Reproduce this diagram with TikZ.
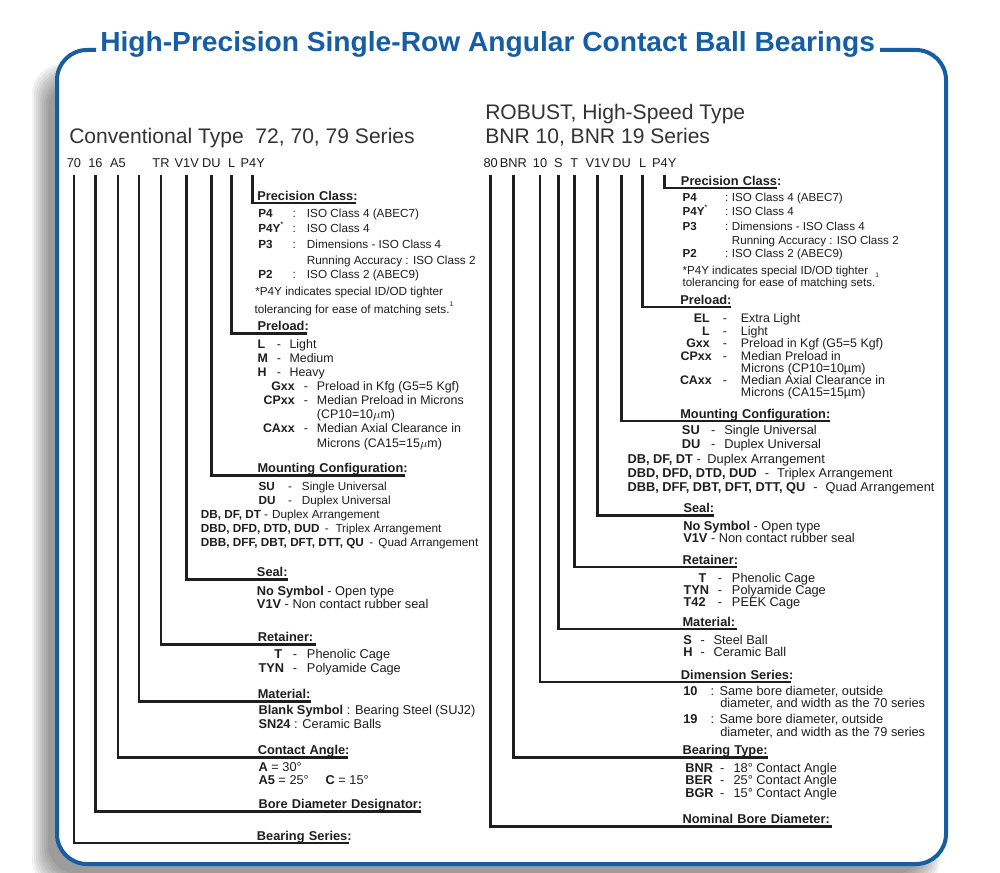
\documentclass[tikz,border=0pt]{standalone}
\usepackage{fontspec}
\setmainfont{Liberation Sans}
\usepackage{graphicx}
\definecolor{frameblue}{RGB}{22,94,164}
\definecolor{ink}{RGB}{30,30,30}
\newcommand\rowA[8]{%
  \node[bt,anchor=base west] (#1l) at (#3,#2) {\bfseries #4};
  \node[bt,anchor=base] (#1s) at (#5,#2) {#6};
  \node[bt,anchor=base west] (#1d) at (#7,#2) {#8};}
\newcommand\rowB[8]{%
  \node[bt,anchor=base east] (#1l) at (#3,#2) {\bfseries #4};
  \node[bt,anchor=base] (#1s) at (#5,#2) {#6};
  \node[bt,anchor=base west] (#1d) at (#7,#2) {#8};}
\newcommand\lineT[4]{\node[bt,anchor=base west] (#1) at (#2,#3) {#4};}
\newcommand\hd[5]{\node[hd,text width=#4pt] (#1) at (#2,#3) {\mbox{#5}};}
\newcommand\fs[1]{\fontsize{#1}{#1}\selectfont}
\begin{document}
\begin{tikzpicture}[x=0.75pt,y=-0.75pt,
  bt/.style={inner sep=0pt,text=ink,font=\fs{9.5}},
  hd/.style={inner sep=0pt,anchor=base west,text=ink,text depth=0pt,align=left,font=\bfseries\fs{9.6}},
  code/.style={inner sep=0pt,anchor=base,text=ink,font=\fs{9.6}},
  head/.style={inner sep=0pt,anchor=base west,text=black!80,font=\fs{15.8}},
  leader/.style={draw=ink,line width=2.1pt}]
\clip (0,0) rectangle (1000,873);
\fill[white] (0,0) rectangle (1000,873);
% shadow
\foreach \k in {-8,-6,...,8} {\fill[black,fill opacity=0.05,rounded corners=22.5pt] ({40+\k},{72+\k}) rectangle ({932-\k},{882-\k});}
\fill[white,rounded corners=22.5pt] (57,50) rectangle (946,864);
\draw[frameblue,line width=3pt,rounded corners=22.5pt] (96,50) -- (57,50) -- (57,864) -- (946,864) -- (946,50) -- (880,50);
\node[anchor=base west,inner sep=0pt,text=frameblue] (title) at (100,52) {\resizebox{581pt}{15pt}{\bfseries High-Precision Single-Row Angular Contact Ball Bearings}};

% headers
\node[head] (hl) at (69,143.3) {Conventional Type\ \ 72, 70, 79 Series};
\node[head] (hr1) at (485,120) {ROBUST, High-Speed Type};
\node[head] (hr2) at (485,144) {BNR 10, BNR 19 Series};

% code tokens left
\node[code] (lt70) at (74,168) {70};
\node[code] (lt16) at (95.5,168) {16};
\node[code] (ltA5) at (118,168) {A5};
\coordinate (lblank) at (139,175);
\node[code] (ltTR) at (161,168) {TR};
\node[code] (ltV1V) at (186.7,168) {V1V};
\node[code] (ltDU) at (211.3,168) {DU};
\node[code] (ltL) at (231.7,168) {L};
\node[code] (ltP4Y) at (252.7,168) {P4Y};
% code tokens right
\node[code] (rt80) at (490.7,168) {80};
\node[code] (rtBNR) at (513.3,168) {BNR};
\node[code] (rt10) at (540,168) {10};
\node[code] (rtS) at (558.3,168) {S};
\node[code] (rtT) at (574.3,168) {T};
\node[code] (rtV1V) at (597.7,168) {V1V};
\node[code] (rtDU) at (621.7,168) {DU};
\node[code] (rtL) at (642.7,168) {L};
\node[code] (rtP4Y) at (664.3,168) {P4Y};

% headings left
\hd{lpc}{257}{200.2}{74.0}{Precision Class:}
\hd{lpre}{257.3}{331}{37.0}{Preload:}
\hd{lmc}{257.3}{472.5}{110.0}{Mounting Configuration:}
\hd{lseal}{256.7}{576.8}{23.25}{Seal:}
\hd{lret}{257.5}{641.5}{43.1}{Retainer:}
\hd{lmat}{257.5}{698.5}{39.9}{Material:}
\hd{lca}{257.5}{754.5}{67.7}{Contact Angle:}
\hd{lbore}{258.3}{808.5}{121.3}{Bore Diameter Designator:}
\hd{lbs}{256.7}{840.2}{69}{Bearing Series:}
% headings right
\hd{rpc}{680.7}{185.2}{71.5}{Precision Class:}
\hd{rpre}{680}{304.2}{38.0}{Preload:}
\hd{rmc}{680}{418.2}{112.0}{Mounting Configuration:}
\hd{rseal}{683.3}{512.5}{22.3}{Seal:}
\hd{rret}{682.3}{564.2}{40.8}{Retainer:}
\hd{rmat}{682.3}{626.2}{40.8}{Material:}
\hd{rdim}{680.7}{679.2}{82.5}{Dimension Series:}
\hd{rbt}{682.3}{754.8}{64.0}{Bearing Type:}
\hd{rnom}{682.3}{823.5}{111.5}{Nominal Bore Diameter:}

% connectors left
\draw[leader] ([yshift=-5.25pt]ltP4Y.south) |- ([yshift=-1.9pt]lpc.south east);
\draw[leader] ([yshift=-5.25pt]ltL.south) |- ([yshift=-1.9pt]lpre.south east);
\draw[leader] ([yshift=-5.25pt]ltDU.south) |- ([yshift=-1.9pt]lmc.south east);
\draw[leader] ([yshift=-5.25pt]ltV1V.south) |- ([yshift=-1.9pt]lseal.south east);
\draw[leader] ([yshift=-5.25pt]ltTR.south) |- ([yshift=-1.9pt]lret.south east);
\draw[leader] (lblank) |- ([yshift=-1.9pt]lmat.south east);
\draw[leader] ([yshift=-5.25pt]ltA5.south) |- ([yshift=-1.9pt]lca.south east);
\draw[leader] ([yshift=-5.25pt]lt16.south) |- ([yshift=-1.9pt]lbore.south east);
\draw[leader] ([yshift=-5.25pt]lt70.south) |- ([yshift=-1.9pt]lbs.south east);
% connectors right
\draw[leader] ([yshift=-5.25pt]rtP4Y.south) |- ([yshift=-1.9pt]rpc.south east);
\draw[leader] ([yshift=-5.25pt]rtL.south) |- ([yshift=-1.9pt]rpre.south east);
\draw[leader] ([yshift=-5.25pt]rtDU.south) |- ([yshift=-1.9pt]rmc.south east);
\draw[leader] ([yshift=-5.25pt]rtV1V.south) |- ([yshift=-1.9pt]rseal.south east);
\draw[leader] ([yshift=-5.25pt]rtT.south) |- ([yshift=-1.9pt]rret.south east);
\draw[leader] ([yshift=-5.25pt]rtS.south) |- ([yshift=-1.9pt]rmat.south east);
\draw[leader] ([yshift=-5.25pt]rt10.south) |- ([yshift=-1.9pt]rdim.south east);
\draw[leader] ([yshift=-5.25pt]rtBNR.south) |- ([yshift=-1.9pt]rbt.south east);
\draw[leader] ([yshift=-5.25pt]rt80.south) |- ([yshift=-1.9pt]rnom.south east);

% ---- left text blocks
\begin{scope}[bt/.append style={font=\fs{8.8}}]
\rowA{lp4}{217.5}{258}{P4}{294.3}{:}{306.7}{ISO Class 4 (ABEC7)}
\rowA{lp4y}{232.5}{258}{P4Y\textsuperscript{\normalfont *}}{294.3}{:}{306.7}{ISO Class 4}
\rowA{lp3}{248.2}{258}{P3}{294.3}{:}{306.7}{Dimensions - ISO Class 4}
\lineT{lp3b}{306.7}{264.2}{Running Accuracy : ISO Class 2}
\rowA{lp2}{278.5}{258}{P2}{294.3}{:}{306.7}{ISO Class 2 (ABEC9)}
\lineT{lnote1}{255}{295.9}{*P4Y indicates special ID/OD tighter}
\lineT{lnote2}{254.3}{313.5}{tolerancing for ease of matching sets.\raisebox{5pt}{\fs{5}1}}
\end{scope}
\begin{scope}[bt/.append style={font=\fs{9.3}}]
\rowA{lpl}{348.3}{257.3}{L}{279}{-}{289.3}{Light}
\rowA{lpm}{362.6}{257.3}{M}{279}{-}{289.3}{Medium}
\rowA{lph}{376.6}{257.3}{H}{279}{-}{289.3}{Heavy}
\rowB{lpg}{391}{295}{Gxx}{306}{-}{316.7}{Preload in Kfg (G5=5 Kgf)}
\rowB{lpcp}{404.3}{295}{CPxx}{306}{-}{316.7}{Median Preload in Microns}
\lineT{lpcp2}{316.7}{418.6}{(CP10=10$\mu$m)}
\rowB{lpca}{432.6}{295}{CAxx}{306}{-}{316.7}{Median Axial Clearance in}
\lineT{lpca2}{316.7}{447.6}{Microns (CA15=15$\mu$m)}
\end{scope}
\begin{scope}[bt/.append style={font=\fs{8.8}}]
\rowA{lmsu}{490}{258.3}{SU}{290}{-}{301.7}{Single Universal}
\rowA{lmdu}{504.3}{258.3}{DU}{290}{-}{301.7}{Duplex Universal}
\lineT{lmdb}{200.7}{518.3}{\textbf{DB, DF, DT} -\hspace{3pt}Duplex Arrangement}
\lineT{lmdbd}{200.7}{532.6}{\textbf{DBD, DFD, DTD, DUD}\hspace{4pt}-\hspace{5pt}Triplex Arrangement}
\lineT{lmdbb}{200.7}{546.6}{\textbf{DBB, DFF, DBT, DFT, DTT, QU}\hspace{4pt}-\hspace{4pt}Quad Arrangement}
\end{scope}
\begin{scope}[bt/.append style={font=\fs{9.6}}]
\lineT{lsno}{256.7}{595}{\textbf{No Symbol} - Open type}
\lineT{lsv}{256.7}{608.6}{\textbf{V1V} - Non contact rubber seal}
\rowA{lrt}{658.3}{274}{T}{295}{-}{306.7}{Phenolic Cage}
\rowA{lrtyn}{672}{258.3}{TYN}{295}{-}{306.7}{Polyamide Cage}
\lineT{lmb}{258.3}{714.3}{\textbf{Blank Symbol} : Bearing Steel (SUJ2)}
\lineT{lms}{258.3}{728.6}{\textbf{SN24} : Ceramic Balls}
\lineT{lca1}{258.3}{771}{\textbf{A} = 30°}
\lineT{lca2}{258.3}{784.3}{\textbf{A5} = 25°}
\lineT{lca3}{325.3}{784.3}{\textbf{C} = 15°}
\end{scope}

% ---- right text blocks
\begin{scope}[bt/.append style={font=\fs{8.7}}]
\rowA{rp4}{201.5}{682.3}{P4}{726.7}{:}{731.7}{ISO Class 4 (ABEC7)}
\rowA{rp4y}{215.9}{682.3}{P4Y\textsuperscript{\normalfont *}}{726.7}{:}{731.7}{ISO Class 4}
\rowA{rp3}{230.2}{682.3}{P3}{726.7}{:}{731.7}{Dimensions - ISO Class 4}
\lineT{rp3b}{731.7}{244.2}{Running Accuracy : ISO Class 2}
\rowA{rp2}{257.5}{682.3}{P2}{726.7}{:}{731.7}{ISO Class 2 (ABEC9)}
\lineT{rnote1}{682.3}{274.2}{*P4Y indicates special ID/OD tighter}
\lineT{rnote2}{682.3}{286.9}{tolerancing for ease of matching sets.\raisebox{7pt}{\fs{5}1}}
\end{scope}
\begin{scope}[bt/.append style={font=\fs{9.3}}]
\rowB{rpel}{322.8}{710}{EL}{725}{-}{740.7}{Extra Light}
\rowB{rpl}{335.2}{710}{L}{725}{-}{740.7}{Light}
\rowB{rpg}{347.2}{710}{Gxx}{725}{-}{740.7}{Preload in Kgf (G5=5 Kgf)}
\rowB{rpcp}{360.2}{712}{CPxx}{725}{-}{740.7}{Median Preload in}
\lineT{rpcp2}{740.7}{372.2}{Microns (CP10=10µm)}
\rowB{rpca}{384.2}{712}{CAxx}{725}{-}{740.7}{Median Axial Clearance in}
\lineT{rpca2}{740.7}{396.5}{Microns (CA15=15µm)}
\end{scope}
\begin{scope}[bt/.append style={font=\fs{9.6}}]
\rowA{rmsu}{434.5}{681.7}{SU}{713.3}{-}{724}{Single Universal}
\rowA{rmdu}{448.5}{681.7}{DU}{713.3}{-}{724}{Duplex Universal}
\lineT{rmdb}{627.3}{463.8}{\textbf{DB, DF, DT} -\hspace{5pt}Duplex Arrangement}
\lineT{rmdbd}{627.3}{477.2}{\textbf{DBD, DFD, DTD, DUD}\hspace{6pt}-\hspace{6pt}Triplex Arrangement}
\lineT{rmdbb}{627.3}{491.8}{\textbf{DBB, DFF, DBT, DFT, DTT, QU}\hspace{6pt}-\hspace{6pt}Quad Arrangement}
\lineT{rsno}{683}{530.5}{\textbf{No Symbol} - Open type}
\lineT{rsv}{683}{542.2}{\textbf{V1V} - Non contact rubber seal}
\rowA{rrt}{582.2}{698.3}{T}{720}{-}{731.7}{Phenolic Cage}
\rowA{rrtyn}{594.5}{683.3}{TYN}{720}{-}{731.7}{Polyamide Cage}
\rowA{rrt42}{606.8}{683.3}{T42}{720}{-}{731.7}{PEEK Cage}
\rowA{rms}{644.5}{683}{S}{702.7}{-}{713.3}{Steel Ball}
\rowA{rmh}{656.8}{683}{H}{702.7}{-}{713.3}{Ceramic Ball}
\rowA{rd10}{695.2}{683}{10}{712.3}{:}{719.3}{Same bore diameter, outside}
\lineT{rd10b}{720}{707.8}{diameter, and width as the 70 series}
\rowA{rd19}{723.5}{683}{19}{712.3}{:}{719.3}{Same bore diameter, outside}
\lineT{rd19b}{720}{736.2}{diameter, and width as the 79 series}
\rowA{rbnr}{772.2}{685}{BNR}{722.3}{-}{733.3}{18° Contact Angle}
\rowA{rber}{784.5}{685}{BER}{722.3}{-}{733.3}{25° Contact Angle}
\rowA{rbgr}{797.2}{685}{BGR}{722.3}{-}{733.3}{15° Contact Angle}
\end{scope}
\end{tikzpicture}
\end{document}
